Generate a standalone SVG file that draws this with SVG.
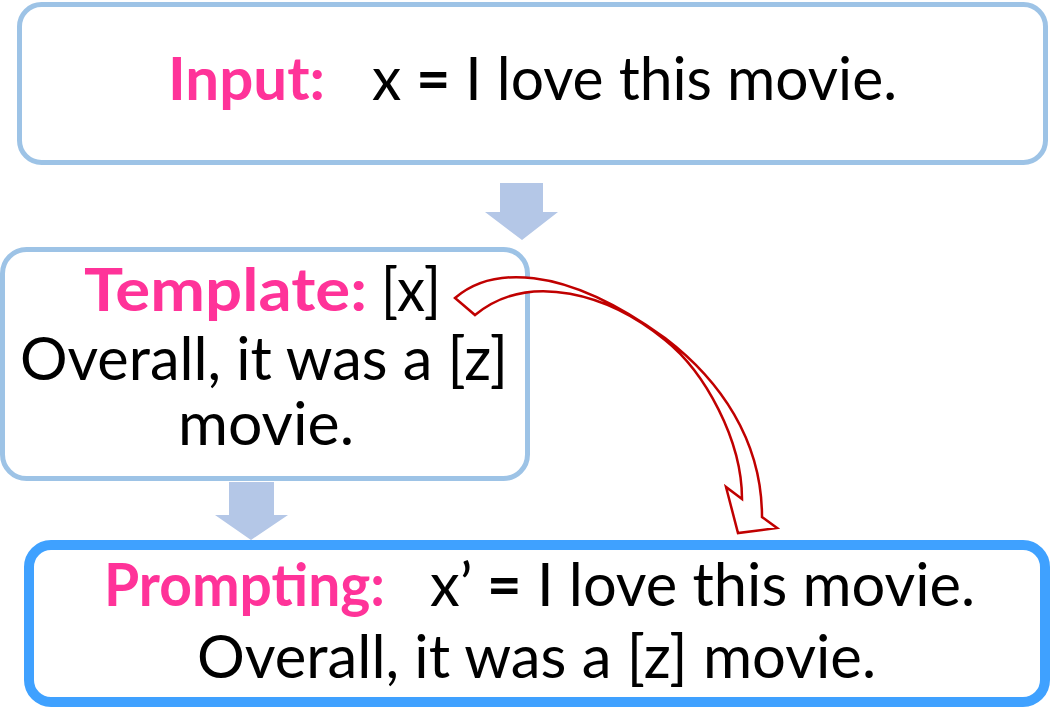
<svg xmlns="http://www.w3.org/2000/svg" width="1053" height="709" viewBox="0 0 1053 709">
<style>
.box{fill:#fff;stroke:#9DC3E6;stroke-width:5}
.box3{fill:#fff;stroke:#3FA1FF;stroke-width:10}
.t{font-family:Lato,"Open Sans",sans-serif;font-size:60px;fill:#000}
.k{font-family:Lato,"Open Sans",sans-serif;font-size:60px;font-weight:bold;fill:#FF3399}
.b{font-weight:bold}
.blk{fill:#B4C7E7}
.curve{fill:#fff;stroke:#C00000;stroke-width:2.5;stroke-linejoin:miter}
</style>
<rect width="1053" height="709" fill="#fff"/>
<g id="connectors">
<path class="blk" d="M500,183 H543 V212 H558 L522,240 L485,212 H500 Z"/>
<path class="blk" d="M229,482 H274 V515 H288 L251,540 L215,515 H229 Z"/>
</g>
<g id="input">
<rect class="box" x="19.5" y="4.5" width="1026" height="158" rx="22"/>
<text class="k" x="168" y="100" textLength="157" lengthAdjust="spacingAndGlyphs">Input:</text>
<text class="t" x="372" y="100" textLength="525" lengthAdjust="spacingAndGlyphs">x <tspan class="b">=</tspan> I love this movie.</text>
</g>
<g id="template">
<rect class="box" x="2.5" y="249.5" width="525" height="229" rx="24"/>
<text class="k" x="84" y="311" textLength="283" lengthAdjust="spacingAndGlyphs">Template:</text>
<text class="t" x="381" y="311" textLength="60" lengthAdjust="spacingAndGlyphs">[x]</text>
<text class="t" x="20" y="380" textLength="488" lengthAdjust="spacingAndGlyphs">Overall, it was a [z]</text>
<text class="t" x="178" y="445" textLength="176" lengthAdjust="spacingAndGlyphs">movie.</text>
</g>
<g id="prompting">
<rect class="box3" x="29" y="545" width="1016" height="157" rx="22"/>
<text class="k" x="104" y="606" textLength="281" lengthAdjust="spacingAndGlyphs">Prompting:</text>
<text class="t" x="430" y="606" textLength="545" lengthAdjust="spacingAndGlyphs">x’ <tspan class="b">=</tspan> I love this movie.</text>
<text class="t" x="197" y="678" textLength="679" lengthAdjust="spacingAndGlyphs">Overall, it was a [z] movie.</text>
</g>
<g id="curved-arrow">
<path class="curve" d="M455,298 C490,268 560,262 665,338 C720,380 762,440 762,517 L777,528 L738,533 L726,487 L742,499 C742,440 705,372 665,340 C610,295 530,270 475,315 Z"/>
</g>
</svg>
